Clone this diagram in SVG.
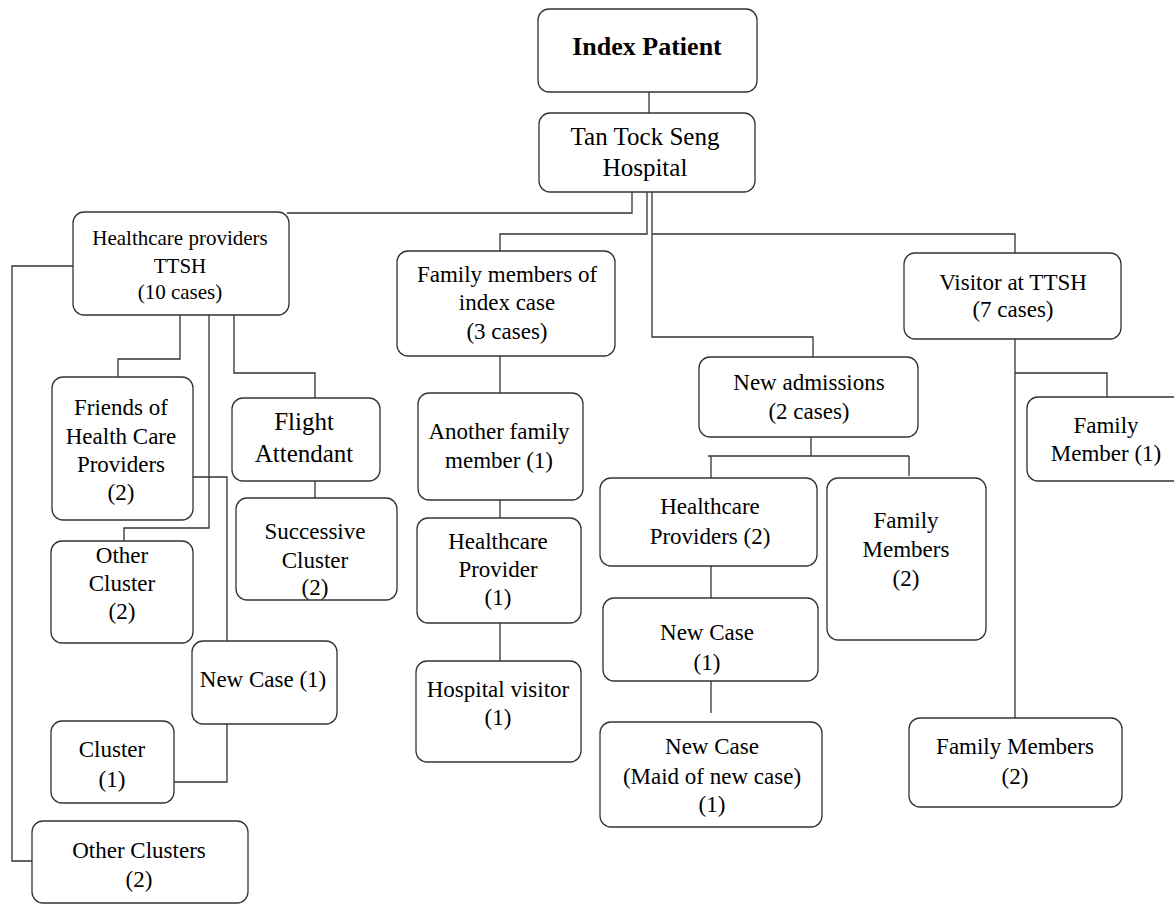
<svg xmlns="http://www.w3.org/2000/svg" width="1174" height="906" viewBox="0 0 1174 906" font-family="Liberation Serif, Tinos, Times New Roman, Times, DejaVu Serif, serif">
<style>
.b{fill:#fff;stroke:#333;stroke-width:1.3}
.c{fill:none;stroke:#333;stroke-width:1.3}
text{font-family:'Liberation Serif',Tinos,'Times New Roman',Times,'DejaVu Serif',serif;fill:#000;text-anchor:middle}
.f23{font-size:23px}
.f21{font-size:21px}
.f25{font-size:25px}
</style>
<rect width="1174" height="906" fill="#fff"/>
<g id="connectors">
<path class="c" d="M649 92V113"/>
<path class="c" d="M632 192V213H287"/>
<path class="c" d="M647 192V234H500V251"/>
<path class="c" d="M652 192V337H813V357"/>
<path class="c" d="M652 234H1015V253"/>
<path class="c" d="M180 315V359H118V377"/>
<path class="c" d="M209 315V528H124V541"/>
<path class="c" d="M234 315V373H315V398"/>
<path class="c" d="M193 477H227V641"/>
<path class="c" d="M73 266H12V861H32"/>
<path class="c" d="M315 481V498"/>
<path class="c" d="M227 724V782H174"/>
<path class="c" d="M500 356V393"/>
<path class="c" d="M500 500V518"/>
<path class="c" d="M500 623V661"/>
<path class="c" d="M811 437V456M708 456H909M711 456V478M909 456V476"/>
<path class="c" d="M711 566V598"/>
<path class="c" d="M711 681V713"/>
<path class="c" d="M1015 339V718"/>
<path class="c" d="M1015 373H1107V397"/>
</g>
<g id="index-patient"><rect class="b" x="538" y="9" width="219" height="83" rx="11"/><text x="647" y="55" font-size="26" font-weight="bold">Index Patient</text></g>
<g id="ttsh"><rect class="b" x="539" y="113" width="216" height="79" rx="11"/><text class="f25" x="645" y="145">Tan Tock Seng</text><text class="f25" x="645" y="176">Hospital</text></g>
<g id="healthcare-providers"><rect class="b" x="73" y="212" width="216" height="103" rx="11"/><text class="f21" x="180" y="245">Healthcare providers</text><text class="f21" x="180" y="273">TTSH</text><text class="f21" x="180" y="299">(10 cases)</text></g>
<g id="friends"><rect class="b" x="52" y="377" width="141" height="143" rx="11"/><text class="f23" x="121" y="415">Friends of</text><text class="f23" x="121" y="444">Health Care</text><text class="f23" x="121" y="472">Providers</text><text class="f23" x="121" y="500">(2)</text></g>
<g id="flight-attendant"><rect class="b" x="232" y="398" width="148" height="83" rx="11"/><text class="f25" x="304" y="430">Flight</text><text class="f25" x="304" y="462">Attendant</text></g>
<g id="successive-cluster"><rect class="b" x="236" y="498" width="161" height="102" rx="11"/><text class="f23" x="315" y="539">Successive</text><text class="f23" x="315" y="568">Cluster</text><text class="f23" x="315" y="595">(2)</text></g>
<g id="other-cluster"><rect class="b" x="51" y="541" width="142" height="102" rx="11"/><text class="f23" x="122" y="563">Other</text><text class="f23" x="122" y="591">Cluster</text><text class="f23" x="122" y="619">(2)</text></g>
<g id="new-case-left"><rect class="b" x="192" y="641" width="145" height="83" rx="11"/><text class="f23" x="263" y="687">New Case (1)</text></g>
<g id="cluster"><rect class="b" x="51" y="721" width="123" height="82" rx="11"/><text class="f23" x="112" y="757">Cluster</text><text class="f23" x="112" y="787">(1)</text></g>
<g id="other-clusters"><rect class="b" x="32" y="821" width="216" height="82" rx="11"/><text class="f23" x="139" y="858">Other Clusters</text><text class="f23" x="139" y="887">(2)</text></g>
<g id="family-members-index"><rect class="b" x="397" y="251" width="218" height="105" rx="11"/><text class="f23" x="507" y="282">Family members of</text><text class="f23" x="507" y="310">index case</text><text class="f23" x="507" y="339">(3 cases)</text></g>
<g id="another-family-member"><rect class="b" x="418" y="393" width="165" height="107" rx="11"/><text class="f23" x="499" y="439">Another family</text><text class="f23" x="499" y="468">member (1)</text></g>
<g id="healthcare-provider"><rect class="b" x="417" y="518" width="164" height="105" rx="11"/><text class="f23" x="498" y="549">Healthcare</text><text class="f23" x="498" y="577">Provider</text><text class="f23" x="498" y="605">(1)</text></g>
<g id="hospital-visitor"><rect class="b" x="416" y="661" width="165" height="101" rx="11"/><text class="f23" x="498" y="697">Hospital visitor</text><text class="f23" x="498" y="725">(1)</text></g>
<g id="new-admissions"><rect class="b" x="699" y="357" width="219" height="80" rx="11"/><text class="f23" x="809" y="390">New admissions</text><text class="f23" x="809" y="419">(2 cases)</text></g>
<g id="healthcare-providers-2"><rect class="b" x="600" y="478" width="217" height="88" rx="11"/><text class="f23" x="710" y="514">Healthcare</text><text class="f23" x="710" y="544">Providers (2)</text></g>
<g id="family-members-admissions"><rect class="b" x="827" y="478" width="159" height="162" rx="11"/><text class="f23" x="906" y="528">Family</text><text class="f23" x="906" y="557">Members</text><text class="f23" x="906" y="586">(2)</text></g>
<g id="new-case-mid"><rect class="b" x="603" y="598" width="215" height="83" rx="11"/><text class="f23" x="707" y="640">New Case</text><text class="f23" x="707" y="670">(1)</text></g>
<g id="new-case-maid"><rect class="b" x="600" y="722" width="222" height="105" rx="11"/><text class="f23" x="712" y="754">New Case</text><text class="f23" x="712" y="784">(Maid of new case)</text><text class="f23" x="712" y="812">(1)</text></g>
<g id="visitor-ttsh"><rect class="b" x="904" y="253" width="217" height="86" rx="11"/><text class="f23" x="1013" y="290">Visitor at TTSH</text><text class="f23" x="1013" y="317">(7 cases)</text></g>
<g id="family-member-1"><rect class="b" x="1027" y="397" width="170" height="84" rx="11"/><text class="f23" x="1106" y="433">Family</text><text class="f23" x="1106" y="461">Member (1)</text></g>
<g id="family-members-visitor"><rect class="b" x="909" y="718" width="213" height="89" rx="11"/><text class="f23" x="1015" y="754">Family Members</text><text class="f23" x="1015" y="784">(2)</text></g>
</svg>
